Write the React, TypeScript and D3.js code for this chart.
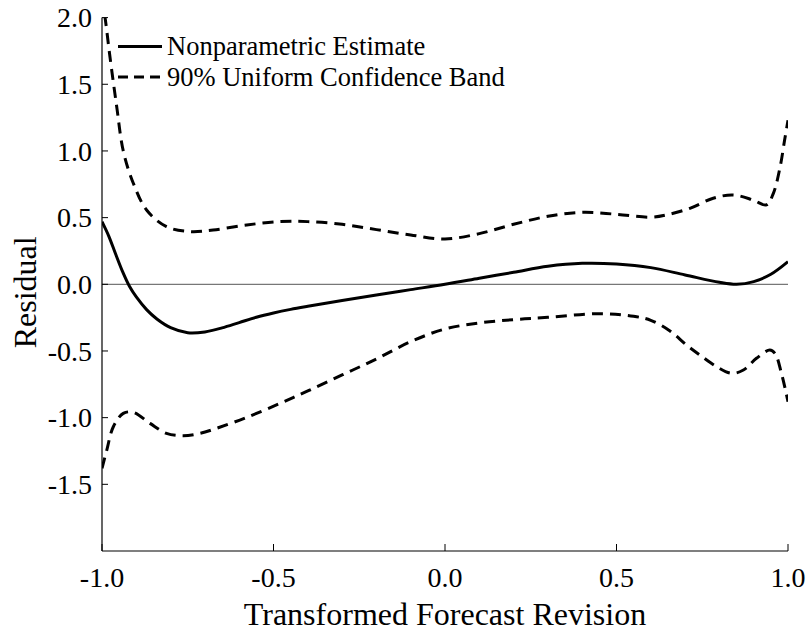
import React from 'react'
import * as d3 from 'd3'

// values
const estX = [-1, -0.98, -0.96, -0.94, -0.92, -0.9, -0.87, -0.84, -0.8, -0.75, -0.7, -0.65, -0.6, -0.55, -0.5, -0.45, -0.4, -0.3, -0.2, -0.1, 0, 0.1, 0.2, 0.3, 0.4, 0.5, 0.6, 0.7, 0.8, 0.85, 0.9, 0.95, 1.0]
const estY = [0.47, 0.36, 0.225, 0.095, -0.015, -0.095, -0.19, -0.26, -0.325, -0.363, -0.357, -0.327, -0.287, -0.247, -0.215, -0.188, -0.165, -0.122, -0.08, -0.04, 0, 0.045, 0.09, 0.135, 0.157, 0.152, 0.125, 0.07, 0.015, 0.0, 0.02, 0.075, 0.17]

const upX = [-1.0, -0.99, -0.977, -0.957, -0.938, -0.909, -0.87, -0.812, -0.743, -0.676, -0.578, -0.481, -0.4, -0.3, -0.2, -0.1, 0, 0.1, 0.2, 0.3, 0.4, 0.5, 0.6, 0.646, 0.714, 0.782, 0.84, 0.898, 0.937, 0.957, 0.977, 0.99, 1.0]
const upY = [2.15, 1.98, 1.71, 1.33, 1.0, 0.76, 0.557, 0.432, 0.395, 0.407, 0.445, 0.47, 0.47, 0.45, 0.41, 0.37, 0.34, 0.38, 0.45, 0.51, 0.54, 0.525, 0.503, 0.52, 0.57, 0.645, 0.67, 0.632, 0.595, 0.68, 0.88, 1.08, 1.23]

const loX = [-1.0, -0.986, -0.967, -0.938, -0.909, -0.86, -0.812, -0.763, -0.714, -0.666, -0.58, -0.481, -0.4, -0.3, -0.2, -0.1, 0, 0.1, 0.2, 0.3, 0.45, 0.55, 0.6, 0.656, 0.704, 0.743, 0.792, 0.836, 0.87, 0.908, 0.947, 0.962, 0.981, 1.0]
const loY = [-1.38, -1.243, -1.068, -0.968, -0.96, -1.043, -1.118, -1.135, -1.118, -1.08, -1.0, -0.893, -0.8, -0.68, -0.56, -0.43, -0.335, -0.29, -0.265, -0.248, -0.22, -0.24, -0.27, -0.35, -0.455, -0.53, -0.618, -0.668, -0.643, -0.555, -0.493, -0.518, -0.668, -0.88]

const xTicks = [-1.0, -0.5, 0.0, 0.5, 1.0]
const yTicks = [2.0, 1.5, 1.0, 0.5, 0.0, -0.5, -1.0, -1.5]
const legendLabels = ['Nonparametric Estimate', '90% Uniform Confidence Band']

const W = 812
const H = 635
const left = 102, right = 788, top = 17.6, bottom = 551
const font = '"Liberation Serif", "Times New Roman", serif'

export default function App() {
  const x = d3.scaleLinear().domain([-1, 1]).range([left, right])
  const y = d3.scaleLinear().domain([-2, 2]).range([bottom, top])

  const line = d3.line<[number, number]>()
    .x(d => x(d[0]))
    .y(d => y(d[1]))
    .curve(d3.curveCatmullRom.alpha(0.5))

  const est = line(estX.map((v, i) => [v, estY[i]]))
  const up = line(upX.map((v, i) => [v, upY[i]]))
  const lo = line(loX.map((v, i) => [v, loY[i]]))

  const dash = '11,7'

  return (
    <svg width={W} height={H} style={{ position: 'absolute', left: 0, top: 0, background: '#fff' }}
      fontFamily={font}>
      <defs>
        <clipPath id="plot">
          <rect x={left} y={top} width={right - left} height={bottom - top} />
        </clipPath>
      </defs>

      {/* zero line */}
      <line x1={left} x2={right} y1={y(0)} y2={y(0)} stroke="#555" strokeWidth={1} />

      <g clipPath="url(#plot)" fill="none" stroke="#000" strokeWidth={3}>
        <path d={est || ''} />
        <path d={up || ''} strokeDasharray={dash} />
        <path d={lo || ''} strokeDasharray={dash} />
      </g>

      {/* axes */}
      <line x1={left} x2={left} y1={top} y2={bottom} stroke="#000" strokeWidth={1.2} />
      <line x1={left} x2={right} y1={bottom} y2={bottom} stroke="#000" strokeWidth={1.2} />
      {yTicks.map(t => (
        <g key={'y' + t}>
          <line x1={left} x2={left + 6} y1={y(t)} y2={y(t)} stroke="#000" strokeWidth={1} />
          <text x={left - 10} y={y(t)} dy="0.35em" textAnchor="end" fontSize={28}>{t.toFixed(1)}</text>
        </g>
      ))}
      {xTicks.map(t => (
        <g key={'x' + t}>
          <line x1={x(t)} x2={x(t)} y1={bottom} y2={bottom - 7} stroke="#000" strokeWidth={1} />
          <text x={x(t)} y={587} textAnchor="middle" fontSize={28}>{t.toFixed(1)}</text>
        </g>
      ))}

      <text x={(left + right) / 2} y={625} textAnchor="middle" fontSize={32}>Transformed Forecast Revision</text>
      <text transform={`translate(36, ${y(0) + 8}) rotate(-90)`} textAnchor="middle" fontSize={32}>Residual</text>

      {/* legend */}
      {legendLabels.map((l, i) => (
        <g key={l} transform={`translate(0, ${46.5 + i * 30.5})`}>
          <line x1={118} x2={162} y1={0} y2={0} stroke="#000" strokeWidth={3}
            strokeDasharray={i === 1 ? '10,6' : undefined} />
          <text x={167} y={0} dy="0.33em" fontSize={26.5}>{l}</text>
        </g>
      ))}
    </svg>
  )
}
